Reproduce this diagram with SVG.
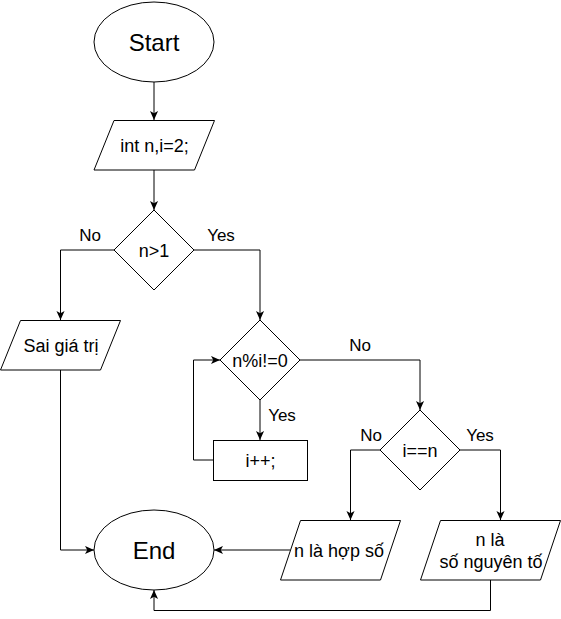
<svg xmlns="http://www.w3.org/2000/svg" width="561" height="619" viewBox="0 0 561 619">
<style>
.s{fill:#fff;stroke:#000;stroke-width:1}
.t{font-family:"Liberation Sans",Arial,sans-serif;font-size:18px;fill:#000;text-anchor:middle}
.b{font-size:24px}
.l{font-family:"Liberation Sans",Arial,sans-serif;font-size:17px;fill:#000;text-anchor:middle}
.c{fill:none;stroke:#000;stroke-width:1}
</style>
<defs>
<marker id="a" viewBox="0 0 10 10" refX="10" refY="5" markerWidth="9" markerHeight="9" markerUnits="userSpaceOnUse" orient="auto">
<path d="M0,0.5 L10,5 L0,9.5 L2.5,5 z" fill="#000"/>
</marker>
</defs>
<rect width="561" height="619" fill="#fff"/>
<g id="connectors">
<path class="c" d="M154,82 V120" marker-end="url(#a)"/>
<path class="c" d="M154,170 V210" marker-end="url(#a)"/>
<path class="c" d="M114,250 H60.5 V320" marker-end="url(#a)"/>
<path class="c" d="M194,250 H260 V320" marker-end="url(#a)"/>
<path class="c" d="M60.5,370 V550 H94" marker-end="url(#a)"/>
<path class="c" d="M260,400 V440" marker-end="url(#a)"/>
<path class="c" d="M213,460 H193.5 V360 H220" marker-end="url(#a)"/>
<path class="c" d="M300,360 H420 V410" marker-end="url(#a)"/>
<path class="c" d="M380,450 H350.5 V520" marker-end="url(#a)"/>
<path class="c" d="M460,450 H500.5 V520" marker-end="url(#a)"/>
<path class="c" d="M290,550 H214" marker-end="url(#a)"/>
<path class="c" d="M490.5,580 V610.5 H154 V590" marker-end="url(#a)"/>
<text class="l" x="90" y="241">No</text>
<text class="l" x="221" y="241">Yes</text>
<text class="l" x="282" y="421">Yes</text>
<text class="l" x="360" y="351">No</text>
<text class="l" x="371" y="441">No</text>
<text class="l" x="480" y="441">Yes</text>
</g>
<g id="start">
<ellipse class="s" cx="154" cy="42" rx="60" ry="40"/>
<text class="t b" x="154" y="50.5">Start</text>
</g>
<g id="init">
<polygon class="s" points="114,120.5 214.5,120.5 194.5,170 94,170"/>
<text class="t" x="154.5" y="151.5">int n,i=2;</text>
</g>
<g id="cond1">
<polygon class="s" points="154,210 194,250 154,290 114,250"/>
<text class="t" x="154" y="256.5">n&gt;1</text>
</g>
<g id="invalid">
<polygon class="s" points="20.5,320.5 120.5,320.5 100.5,370 0.5,370"/>
<text class="t" x="61" y="351.5">Sai giá trị</text>
</g>
<g id="cond2">
<polygon class="s" points="260,320 300,360 260,400 220,360"/>
<text class="t" x="260" y="366.5">n%i!=0</text>
</g>
<g id="inc">
<rect class="s" x="213.5" y="440.5" width="94" height="40"/>
<text class="t" x="260.5" y="466.5">i++;</text>
</g>
<g id="cond3">
<polygon class="s" points="420,410 460,450 420,490 380,450"/>
<text class="t" x="420" y="456.5">i==n</text>
</g>
<g id="composite">
<polygon class="s" points="300.5,520.5 400.5,520.5 380.5,580 280.5,580"/>
<text class="t" x="339" y="556.5">n là hợp số</text>
</g>
<g id="prime">
<polygon class="s" points="440.5,520.5 560.5,520.5 540.5,580 420.5,580"/>
<text class="t" x="490" y="545.5">n là</text>
<text class="t" x="491" y="567.5">số nguyên tố</text>
</g>
<g id="end">
<ellipse class="s" cx="154" cy="550" rx="60" ry="40"/>
<text class="t b" x="154" y="558.5">End</text>
</g>
</svg>
